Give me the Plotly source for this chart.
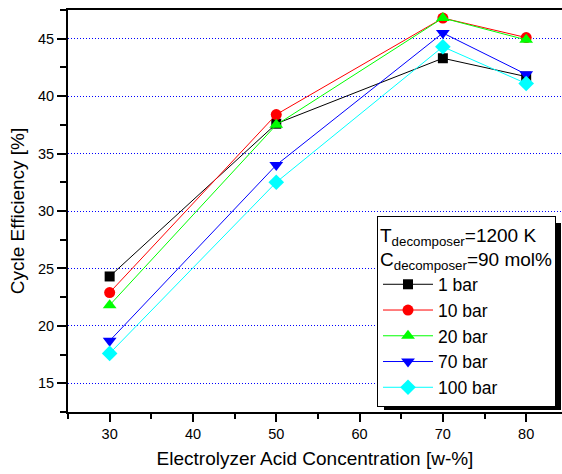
import plotly.graph_objects as go

conc = [30, 50, 70, 80]
eff_1bar = [24.3, 37.6, 43.3, 41.7]
eff_10bar = [22.9, 38.4, 46.8, 45.1]
eff_20bar = [21.8, 37.5, 46.8, 44.9]
eff_70bar = [18.7, 34.0, 45.5, 41.9]
eff_100bar = [17.6, 32.5, 44.3, 41.1]

series = [
    ("1 bar", eff_1bar, "#000000", "square", 10),
    ("10 bar", eff_10bar, "#ff0000", "circle", 11),
    ("20 bar", eff_20bar, "#00ff00", "triangle-up", 12),
    ("70 bar", eff_70bar, "#0000ff", "triangle-down", 12),
    ("100 bar", eff_100bar, "#00ffff", "diamond", 12),
]

FONT = "Liberation Sans, Arial, sans-serif"

fig = go.Figure()
for name, vals, col, sym, sz in series:
    fig.add_trace(go.Scatter(
        x=conc, y=vals, name=name, mode="lines+markers",
        line=dict(color=col, width=1),
        marker=dict(symbol=sym, size=sz, color=col, line=dict(width=0)),
    ))

W, H = 562, 474
ml, mr, mt, mb = 68, 0, 10, 62
pw, ph = W - ml - mr, H - mt - mb

def px(x):
    return (x - ml) / pw

def py(y):
    return (H - mb - y) / ph

# legend shadow
fig.add_shape(type="rect", xref="paper", yref="paper",
              x0=px(384), x1=px(561), y0=py(410), y1=py(223),
              fillcolor="black", line=dict(width=0), layer="above")

fig.update_layout(
    width=W, height=H,
    margin=dict(l=ml, r=mr, t=mt, b=mb),
    paper_bgcolor="white", plot_bgcolor="white",
    font=dict(family=FONT, color="black"),
    legend=dict(
        x=px(377), y=py(216), xanchor="left", yanchor="top",
        bgcolor="white", bordercolor="black", borderwidth=1,
        font=dict(size=17.5, family=FONT),
        itemwidth=50,
        title=dict(text="T<sub>decomposer</sub>=1200 K<br>C<sub>decomposer</sub>=90 mol%",
                   font=dict(size=19, family=FONT)),
        tracegroupgap=0,
    ),
    xaxis=dict(
        range=[25, 84.3], tickmode="array", tickvals=[30, 40, 50, 60, 70, 80],
        showline=True, linecolor="black", linewidth=2, mirror=True,
        ticks="outside", ticklen=8, tickwidth=1.5, tickcolor="black",
        minor=dict(tickvals=[25, 35, 45, 55, 65, 75], ticks="outside", ticklen=5, tickwidth=1.5, tickcolor="black"),
        showgrid=False, zeroline=False,
        tickfont=dict(size=14.5),
        title=dict(text="Electrolyzer Acid Concentration [w-%]", font=dict(size=19), standoff=10),
    ),
    yaxis=dict(
        range=[12.5, 47.5], tickmode="array", tickvals=[15, 20, 25, 30, 35, 40, 45],
        showline=True, linecolor="black", linewidth=2, mirror=False,
        ticks="outside", ticklen=9, tickwidth=1.5, tickcolor="black",
        minor=dict(tickvals=[12.5, 17.5, 22.5, 27.5, 32.5, 37.5, 42.5, 47.5], ticks="outside", ticklen=6,
                   tickwidth=1.5, tickcolor="black", showgrid=False),
        showgrid=True, gridcolor="#0000ff", griddash="1px,2px", gridwidth=1,
        zeroline=False,
        tickfont=dict(size=14.5),
        title=dict(text="Cycle Efficiency [%]", font=dict(size=19), standoff=8),
    ),
)

fig.write_html("out.html", config={"displayModeBar": False},
               post_script="document.body.style.margin='0';")
